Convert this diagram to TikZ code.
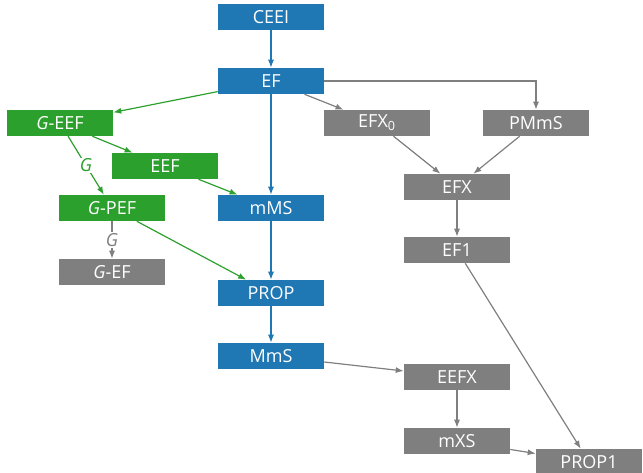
\documentclass[tikz,border=0pt]{standalone}
\usepackage{fontspec}
\setmainfont{Open Sans}
\setsansfont{Open Sans}
\usepackage{tikz}
\usetikzlibrary{arrows.meta,positioning,calc}
\definecolor{fblue}{HTML}{1F77B4}
\definecolor{fgreen}{HTML}{2CA02C}
\definecolor{fgray}{HTML}{7F7F7F}
\tikzset{
  notion/.style={rectangle, inner sep=0pt, minimum width=79.5pt, minimum height=19.5pt,
    text=white, font=\sffamily\fontsize{13.5}{15}\selectfont},
  strong/.style={notion, fill=fblue},
  grp/.style={notion, fill=fgreen},
  weak/.style={notion, fill=fgray},
  imp/.style={-{Latex[length=6pt,width=4.5pt]}, line width=0.9pt},
  glabel/.style={fill=white, inner sep=1pt, font=\sffamily\fontsize{13.5}{15}\selectfont\itshape}
}

\begin{document}
\begin{tikzpicture}[x=0.75pt, y=-0.75pt]
  \useasboundingbox (0,0) rectangle (643,473);
  % Main chain
  \node[strong] (ceei) at (271,17) {CEEI};
  \node[strong] (ef) at (271,81) {EF};
  \node[strong] (mms) at (271,208) {mMS};
  \node[strong] (prop) at (271,293) {PROP};
  \node[strong] (MmS) at (271,356) {MmS};
  % Group notions
  \node[grp] (geef) at (60,123) {\textit{G}-EEF};
  \node[grp] (eef) at (165,166) {EEF};
  \node[grp] (gpef) at (112,208) {\textit{G}-PEF};
  \node[weak] (gef) at (112,272) {\textit{G}-EF};
  % Relaxations
  \node[weak] (efxz) at (377,123) {EFX\textsubscript{0}};
  \node[weak] (pmms) at (536,123) {PMmS};
  \node[weak] (efx) at (457,187) {EFX};
  \node[weak] (efone) at (457,250) {EF1};
  \node[weak] (eefx) at (457,377) {EEFX};
  \node[weak] (mxs) at (457,441) {mXS};
  \node[weak] (propone) at (589,462) {PROP1};
  % Blue implications
  \draw[imp, fblue] (ceei) -- (ef);
  \draw[imp, fblue] (ef) -- (mms);
  \draw[imp, fblue] (mms) -- (prop);
  \draw[imp, fblue] (prop) -- (MmS);
  % Green implications
  \draw[imp, fgreen] (ef) -- (geef);
  \draw[imp, fgreen] (geef) -- (eef);
  \draw[imp, fgreen] (geef) -- node[glabel, text=fgreen] {G} (gpef);
  \draw[imp, fgreen] (eef) -- (mms);
  \draw[imp, fgreen] (gpef) -- (prop);
  % Gray implications
  \draw[imp, fgray] (gpef) -- node[glabel, text=fgray] {G} (gef);
  \draw[imp, fgray] (ef) -- (efxz);
  \draw[imp, fgray] (ef.east) -| (pmms);
  \draw[imp, fgray] (efxz) -- (efx);
  \draw[imp, fgray] (pmms) -- (efx);
  \draw[imp, fgray] (efx) -- (efone);
  \draw[imp, fgray] (efone) -- (propone);
  \draw[imp, fgray] (MmS) -- (eefx);
  \draw[imp, fgray] (eefx) -- (mxs);
  \draw[imp, fgray] (mxs) -- (propone);
\end{tikzpicture}
\end{document}
